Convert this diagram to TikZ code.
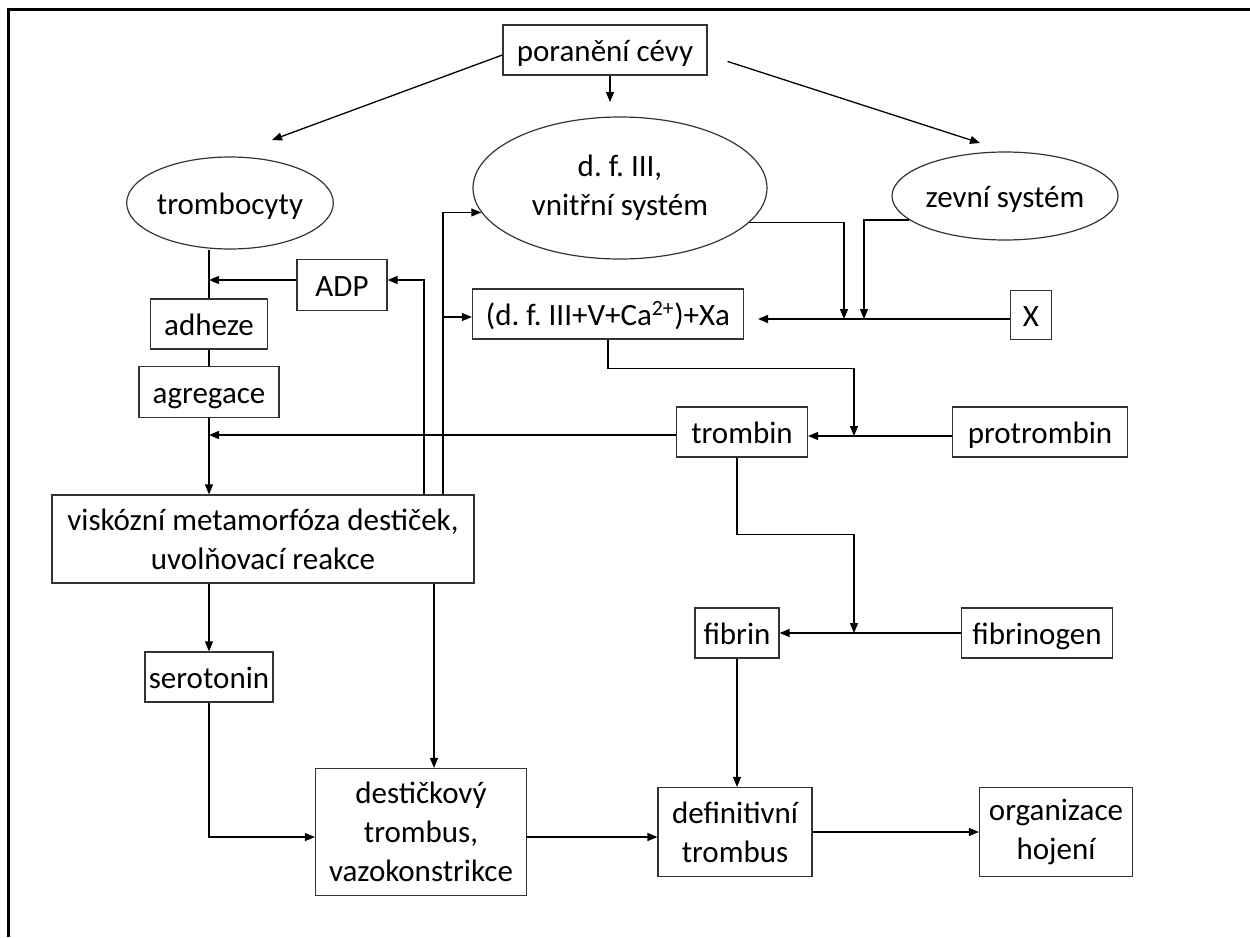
\documentclass[tikz,border=0pt]{standalone}
\usepackage{fontspec}
\setmainfont{Carlito}
\frenchspacing
\usetikzlibrary{shapes.geometric,arrows.meta}

\tikzset{
  base/.style={draw=black!80, line width=1.2pt, inner sep=0pt,
    font=\fontsize{31}{39}\selectfont},
  box/.style={base, text height=24pt, text depth=2pt},
  mbox/.style={base, align=center},
  oval/.style={box, ellipse},
  moval/.style={mbox, ellipse},
  arr/.style={line width=1.3pt, -{Triangle[length=10pt,width=8pt]}},
  link/.style={line width=1.3pt}
}

\begin{document}
\begin{tikzpicture}[x=1pt, y=-1pt]
		%%%%% START %%%%%
		\useasboundingbox (0,0) rectangle (1250,937);
		\draw[line width=3pt] (8,937) -- (8,9) -- (1250,9);
		
		% top row
		\node[box, minimum width=204pt, minimum height=50pt] (poraneni) at (605,50) {poranění cévy};
		\node[oval, minimum width=200pt, minimum height=92pt] (trombocyty) at (230,203) {trombocyty};
		\node[moval, minimum width=294pt, minimum height=142pt] (vnitrni) at (620,188) {d. f. III,\\vnitřní systém};
		\node[oval, minimum width=226pt, minimum height=88pt] (zevni) at (1005,196) {zevní systém};
		
		% platelet column
		\node[box, minimum width=90pt, minimum height=51pt] (adp) at (342,285) {ADP};
		\node[box, minimum width=117pt, minimum height=50pt] (adheze) at (209,324) {adheze};
		\node[box, minimum width=140pt, minimum height=51pt] (agregace) at (209,392) {agregace};
		\node[mbox, minimum width=422pt, minimum height=88pt] (viskozni) at (263,539) {viskózní metamorfóza destiček,\\uvolňovací reakce};
		\node[box, minimum width=128pt, minimum height=50pt] (serotonin) at (209,677) {serotonin};
		
		% coagulation
		\node[box, minimum width=271pt, minimum height=50pt] (dfbox) at (608,314) {(d. f. III+V+Ca\textsuperscript{2+})+Xa};
		\node[box, minimum width=41pt, minimum height=49pt] (xbox) at (1031,315) {X};
		\node[box, minimum width=131pt, minimum height=50pt] (trombin) at (742,432) {trombin};
		\node[box, minimum width=175pt, minimum height=50pt] (protrombin) at (1040,432) {protrombin};
		\node[box, minimum width=84pt, minimum height=50pt] (fibrin) at (737,633) {fibrin};
		\node[box, minimum width=151pt, minimum height=50pt] (fibrinogen) at (1037,633) {fibrinogen};
		
		% bottom row
		\node[mbox, minimum width=211pt, minimum height=127pt] (destickovy) at (421,832) {destičkový\\trombus,\\vazokonstrikce};
		\node[mbox, minimum width=154pt, minimum height=89pt] (definitivni) at (735,832) {definitivní\\trombus};
		\node[mbox, minimum width=153pt, minimum height=89pt] (organizace) at (1056,832) {organizace\\hojení};
		
		\coordinate (tipL) at (272,140);
		\coordinate (tipM) at (610,102);
		\coordinate (tipR) at (980,143);
		\coordinate (xtip) at (758,319);
		\coordinate (jVnitr) at (844,319);
		\coordinate (jZevni) at (864,319);
		\coordinate (jTrombin) at (854,436);
		\coordinate (jFibrin) at (854,633);
		
		\draw[arr] ([yshift=-5pt]poraneni.west) -- (tipL);
		\draw[arr] (poraneni.south -| tipM) -- (tipM);
		\draw[arr, shorten <=21pt] ([yshift=-5pt]poraneni.east) -- (tipR);
		
		\draw[link] (trombocyty.south -| adheze.north) -- (adheze.north);
		\draw[arr] ([yshift=5pt]adp.west) -- ([yshift=5pt]adp.west -| adheze.north);
		\draw[link] (adheze.south) -- (agregace.north);
		\draw[arr] (agregace.south) -- (agregace.south |- viskozni.north);
		\draw[arr] ([yshift=-3pt]trombin.west) -- ([yshift=-3pt]trombin.west -| agregace.south);
		
		\draw[arr] ([xshift=161pt]viskozni.north) |- ([yshift=5pt]adp.east);
		\draw[arr] ([xshift=180pt]viskozni.north) |- (vnitrni.190);
		\draw[arr] ([xshift=180pt]viskozni.north) |- ([yshift=-3pt]dfbox.west);
		
		\draw[arr] (vnitrni.345) -| (jVnitr);
		\draw[arr] (zevni.194) -| (jZevni);
		\draw[arr] ([yshift=-4pt]xbox.west) -- (xtip);
		
		\draw[arr] (dfbox.south) -- ++(0,29) -| (jTrombin);
		\draw[arr] ([yshift=-4pt]protrombin.west) -- ([yshift=-4pt]trombin.east);
		\draw[arr] ([xshift=-5pt]trombin.south) -- ++(0,77) -| (jFibrin);
		\draw[arr] (fibrinogen.west) -- (fibrin.east);
		\draw[arr] (fibrin.south) -- (fibrin.south |- definitivni.north);
		
		\draw[arr] (viskozni.south -| serotonin.north) -- (serotonin.north);
		\draw[arr] ([xshift=171pt]viskozni.south) -- ([xshift=171pt]viskozni.south |- destickovy.north);
		\draw[arr] (serotonin.south) |- ([yshift=-5pt]destickovy.west);
		\draw[arr] ([yshift=-5pt]destickovy.east) -- ([yshift=-5pt]destickovy.east -| definitivni.west);
		\draw[arr] (definitivni.east) -- (organizace.west);
		%%%%% END %%%%%
	\end{tikzpicture}
\end{document}
